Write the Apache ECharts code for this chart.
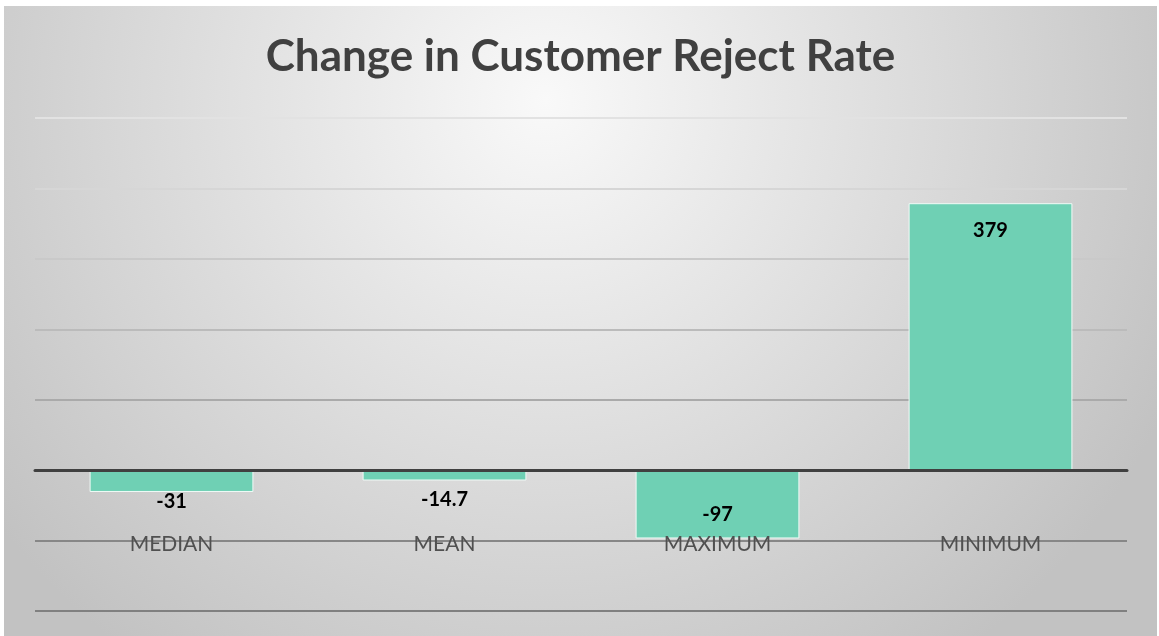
<!DOCTYPE html>
<html>
<head>
<meta charset="utf-8">
<script src="https://cdn.jsdelivr.net/npm/echarts@6/dist/echarts.min.js"></script>
<style>
  html, body { margin: 0; padding: 0; background: #ffffff; }
  #chart { position: absolute; left: 4px; top: 6px; width: 1153px; height: 630px; }
</style>
</head>
<body>
<div id="chart"></div>
<script>
// 数据
var categories = ['MEDIAN', 'MEAN', 'MAXIMUM', 'MINIMUM'];
var changeValues = [-31, -14.7, -97, 379];

var chart = echarts.init(document.getElementById('chart'));

// 标签位置：短柱放在柱外，长柱放在柱内
var barData = [];
for (var i = 0; i < changeValues.length; i++) {
    var v = changeValues[i];
    var lab;
    if (v > 0) {
        lab = { position: 'insideTop', distance: 17 };
    } else if (v < -50) {
        lab = { position: 'insideBottom', distance: 14 };
    } else {
        lab = { position: 'bottom', distance: v < -20 ? 0 : 9 };
    }
    barData.push({ value: v, label: lab });
}

chart.setOption({
    backgroundColor: {
        type: 'radial', x: 0.47, y: 0.15, r: 1.1,
        colorStops: [
            { offset: 0, color: '#f9f9f9' },
            { offset: 1, color: '#c2c2c2' }
        ]
    },
    title: {
        text: 'Change in Customer Reject Rate',
        left: 'center',
        top: 24,
        textStyle: { fontFamily: 'Lato', fontSize: 44, fontWeight: 'bold', color: '#404040' }
    },
    grid: { left: 31, right: 30, top: 112, bottom: 25, containLabel: false, outerBoundsMode: 'none' },
    xAxis: {
        type: 'category',
        data: categories,
        z: 5,
        axisLine: { onZero: true, lineStyle: { color: '#404040', width: 3 } },
        axisTick: { show: false },
        axisLabel: { margin: -77, fontFamily: 'Lato', fontSize: 21, color: '#505050' }
    },
    yAxis: {
        type: 'value',
        min: -200, max: 500, interval: 100,
        axisLabel: { show: false },
        axisLine: { show: false },
        axisTick: { show: false },
        splitLine: {
            lineStyle: {
                width: 2,
                color: ['#808080', '#878787', '#9a9a9a', '#aaaaaa', '#bbbbbb', '#c9c9c9', '#d6d6d6', '#e2e2e2']
            }
        }
    },
    series: [{
        type: 'bar',
        data: barData,
        barWidth: '60%',
        itemStyle: { color: '#6fd0b4', borderColor: '#f0fbf7', borderWidth: 1 },
        label: {
            show: true,
            fontFamily: 'Lato',
            fontSize: 20,
            fontWeight: 'bold',
            color: '#000000'
        }
    }]
});
</script>
</body>
</html>
